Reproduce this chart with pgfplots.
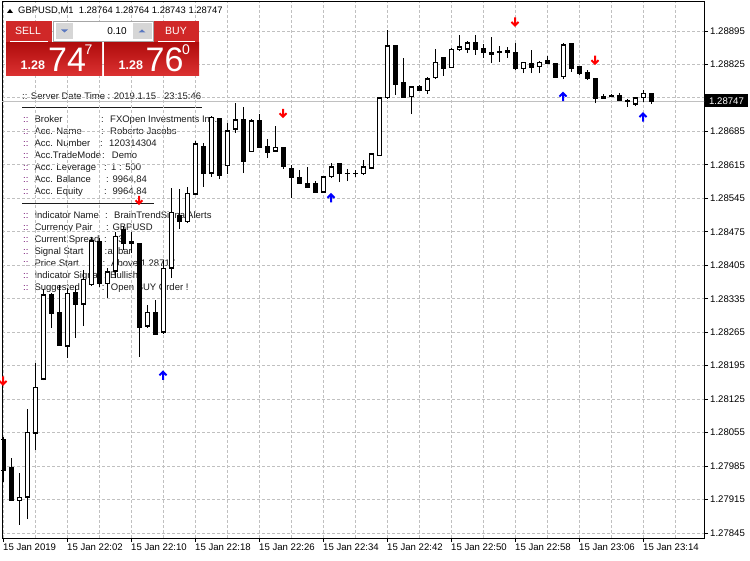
\documentclass[border=0pt]{standalone}
\usepackage{pgfplots}
\pgfplotsset{compat=1.18}
\usepackage{pgfplotstable}
\usepackage{fontspec}
\setmainfont{Liberation Sans}

\definecolor{gridc}{HTML}{C0C0C0}
\definecolor{btnred}{HTML}{D02828}
\definecolor{boxtop}{HTML}{DC3232}
\definecolor{boxbot}{HTML}{B00C0C}
\definecolor{spin}{HTML}{D6D6D6}
\definecolor{spinarr}{HTML}{5A78C0}
\definecolor{dots}{HTML}{6A006A}
\definecolor{lab}{HTML}{1C1C1C}

% MT4 style signal arrows
\pgfdeclareplotmark{uparr}{%
  \pgfsetlinewidth{2pt}\pgfsetbuttcap\pgfsetmiterjoin
  \pgfpathmoveto{\pgfqpoint{0pt}{-4.5pt}}\pgfpathlineto{\pgfqpoint{0pt}{3pt}}
  \pgfpathmoveto{\pgfqpoint{-3.5pt}{0pt}}\pgfpathlineto{\pgfqpoint{0pt}{3.5pt}}\pgfpathlineto{\pgfqpoint{3.5pt}{0pt}}
  \pgfusepathqstroke}
\pgfdeclareplotmark{dnarr}{%
  \pgfsetlinewidth{2pt}\pgfsetbuttcap\pgfsetmiterjoin
  \pgfpathmoveto{\pgfqpoint{0pt}{4.5pt}}\pgfpathlineto{\pgfqpoint{0pt}{-3pt}}
  \pgfpathmoveto{\pgfqpoint{-3.5pt}{0pt}}\pgfpathlineto{\pgfqpoint{0pt}{-3.5pt}}\pgfpathlineto{\pgfqpoint{3.5pt}{0pt}}
  \pgfusepathqstroke}

% GBPUSD M1, bar index 0 = 21:54
\pgfplotstableread{
i O H L C
0 1.28040 1.28046 1.27952 1.27975
1 1.27983 1.28002 1.27912 1.27912
2 1.27912 1.27971 1.27862 1.27920
3 1.27920 1.28104 1.27874 1.28056
4 1.28054 1.28201 1.28019 1.28150
5 1.28167 1.28355 1.28165 1.28343
6 1.28343 1.28347 1.28274 1.28305
7 1.28307 1.28364 1.28238 1.28238
8 1.28236 1.28358 1.28211 1.28347
9 1.28349 1.28362 1.28253 1.28324
10 1.28324 1.28395 1.28278 1.28376
11 1.28364 1.28464 1.28362 1.28456
12 1.28454 1.28462 1.28360 1.28366
13 1.28366 1.28399 1.28337 1.28391
14 1.28393 1.28475 1.28378 1.28466
15 1.28479 1.28487 1.28437 1.28450
16 1.28450 1.28475 1.28431 1.28454
17 1.28450 1.28450 1.28213 1.28274
18 1.28278 1.28322 1.28274 1.28307
19 1.28307 1.28332 1.28261 1.28261
20 1.28265 1.28416 1.28261 1.28399
21 1.28399 1.28567 1.28378 1.28516
22 1.28510 1.28565 1.28481 1.28496
23 1.28496 1.28569 1.28493 1.28556
24 1.28554 1.28665 1.28552 1.28659
25 1.28654 1.28661 1.28569 1.28598
26 1.28598 1.28717 1.28590 1.28715
27 1.28711 1.28711 1.28585 1.28592
28 1.28613 1.28703 1.28596 1.28686
29 1.28690 1.28744 1.28682 1.28709
30 1.28709 1.28736 1.28598 1.28623
31 1.28642 1.28711 1.28642 1.28707
32 1.28707 1.28721 1.28650 1.28652
33 1.28654 1.28669 1.28629 1.28640
34 1.28644 1.28696 1.28644 1.28652
35 1.28652 1.28652 1.28606 1.28611
36 1.28608 1.28615 1.28546 1.28588
37 1.28588 1.28604 1.28577 1.28577
38 1.28577 1.28611 1.28567 1.28567
39 1.28577 1.28581 1.28558 1.28558
40 1.28558 1.28592 1.28558 1.28590
41 1.28590 1.28619 1.28588 1.28611
42 1.28617 1.28617 1.28579 1.28598
43 1.28598 1.28606 1.28581 1.28597
44 1.28598 1.28604 1.28590 1.28597
45 1.28596 1.28625 1.28594 1.28611
46 1.28608 1.28640 1.28606 1.28638
47 1.28634 1.28757 1.28634 1.28755
48 1.28755 1.28897 1.28753 1.28864
49 1.28864 1.28864 1.28761 1.28784
50 1.28788 1.28839 1.28755 1.28755
51 1.28757 1.28780 1.28721 1.28778
52 1.28778 1.28782 1.28770 1.28770
53 1.28770 1.28799 1.28763 1.28795
54 1.28797 1.28857 1.28795 1.28830
55 1.28839 1.28841 1.28801 1.28816
56 1.28818 1.28859 1.28818 1.28857
57 1.28857 1.28887 1.28853 1.28862
58 1.28857 1.28874 1.28849 1.28870
59 1.28870 1.28887 1.28845 1.28857
60 1.28859 1.28868 1.28839 1.28851
61 1.28851 1.28882 1.28828 1.28845
62 1.28853 1.28864 1.28830 1.28851
63 1.28855 1.28862 1.28839 1.28851
64 1.28851 1.28870 1.28813 1.28816
65 1.28816 1.28830 1.28807 1.28830
66 1.28828 1.28855 1.28807 1.28818
67 1.28820 1.28832 1.28807 1.28830
68 1.28834 1.28843 1.28826 1.28828
69 1.28828 1.28828 1.28797 1.28797
70 1.28799 1.28870 1.28795 1.28866
71 1.28868 1.28868 1.28809 1.28816
72 1.28820 1.28820 1.28803 1.28807
73 1.28809 1.28813 1.28793 1.28795
74 1.28795 1.28795 1.28744 1.28753
75 1.28753 1.28763 1.28753 1.28757
76 1.28761 1.28763 1.28757 1.28757
77 1.28761 1.28765 1.28749 1.28749
78 1.28749 1.28753 1.28736 1.28747
79 1.28742 1.28757 1.28738 1.28755
80 1.28755 1.28772 1.28747 1.28765
81 1.28764 1.28764 1.28743 1.28747
}\candles

\pgfplotstableread{
i y
0 1.28163
17 1.28541
35 1.28723
64 1.28914
74 1.28834
}\sellsig

\pgfplotstableread{
i y
20 1.28175
41 1.28546
70 1.28758
80 1.28715
}\buysig

\newcommand\infoline[5]{%
  \node[anchor=base west, inner sep=0pt, text=dots] at (23,#1) {::};
  \node[anchor=base west, inner sep=0pt, text=lab] at (34.3,#1) {#2};
  \node[anchor=base west, inner sep=0pt, text=lab] at (#3,#1) {:};
  \node[anchor=base west, inner sep=0pt, text=lab] at (#4,#1) {#5};
}

\begin{document}
\begin{tikzpicture}
\path[use as bounding box] (0,0) rectangle (750pt,560pt);
\fill[white] (0,0) rectangle (750pt,560pt);

% account / indicator text, drawn under the chart
\begin{scope}[x=1pt, y=-1pt, shift={(0pt,560pt)}, font=\fontsize{9.5}{11}\selectfont]
  \node[anchor=base west, inner sep=0pt, text=lab] at (22,99.5) {:: Server Date Time : 2019.1.15};
  \node[anchor=base west, inner sep=0pt, text=lab] at (164,99.5) {23:15:46};
  \draw[lab, line width=0.9pt] (22,107.7) -- (202,107.7);
  \infoline{122.8}{Broker}{101}{110}{FXOpen Investments Inc.}
  \infoline{135}{Acc. Name}{101}{110}{Roberto Jacobs}
  \infoline{147}{Acc. Number}{100}{109}{120314304}
  \infoline{159}{Acc.TradeMode}{102}{111.7}{Demo}
  \infoline{171}{Acc. Leverage}{104}{111}{1 : 500}
  \infoline{183}{Acc. Balance}{106}{112.3}{9964,84}
  \infoline{195}{Acc. Equity}{104}{112.3}{9964,84}
  \draw[lab, line width=0.9pt] (22,203.3) -- (154,203.3);
  \infoline{219}{Indicator Name}{105}{114}{BrainTrendSignalAlerts}
  \infoline{231}{Currency Pair}{106}{112.3}{GBPUSD}
  \infoline{243}{Current Spread}{104}{113}{13}
  \infoline{255}{Signal Start}{104.3}{107.3}{at bar}
  \infoline{267}{Price Start}{102.3}{111}{Above 1.28717}
  \infoline{279}{Indicator Signal}{104}{110}{Bullish}
  \infoline{291}{Suggested}{101.7}{110.7}{Open BUY Order !}
\end{scope}

\begin{axis}[
  at={(2pt,22pt)}, anchor=south west,
  scale only axis, width=702pt, height=536pt,
  xmin=-0.125, xmax=87.625,
  ymin=1.278346, ymax=1.289557,
  axis line style={black, line width=1pt},
  xtick={0,8,...,80},
  xticklabels={15 Jan 2019,15 Jan 22:02,15 Jan 22:10,15 Jan 22:18,15 Jan 22:26,15 Jan 22:34,15 Jan 22:42,15 Jan 22:50,15 Jan 22:58,15 Jan 23:06,15 Jan 23:14},
  minor xtick={4,12,...,84},
  ytick={1.27845,1.27915,1.27985,1.28055,1.28125,1.28195,1.28265,1.28335,1.28405,1.28475,1.28545,1.28615,1.28685,1.28755,1.28825,1.28895},
  yticklabels={1.27845,1.27915,1.27985,1.28055,1.28125,1.28195,1.28265,1.28335,1.28405,1.28475,1.28545,1.28615,1.28685,1.28755,1.28825,1.28895},
  xmajorgrids, xminorgrids, ymajorgrids,
  grid style={gridc, line width=1pt, dash pattern=on 3pt off 2pt},
  minor grid style={gridc, line width=1pt, dash pattern=on 3pt off 2pt},
  xtick pos=left, ytick pos=right, yticklabel pos=right,
  tick align=outside, major tick length=4pt, minor tick length=0pt,
  tick style={black, line width=1pt},
  ticklabel style={font=\fontsize{9.6}{11}\selectfont},
  xticklabel style={anchor=north west, inner sep=0pt, yshift=-2pt},
  yticklabel style={anchor=west, inner sep=0pt, xshift=2pt},
  /pgf/number format/assume math mode=true,
]
% bid line
\addplot[gridc, line width=1pt] coordinates {(-1,1.28747) (90,1.28747)};
% wicks
\addplot[draw=none, mark=none, error bars/.cd, y dir=plus, y explicit, error mark=none,
  error bar style={draw=black, line width=1pt, solid}]
  table[x=i, y=L, y error expr=\thisrow{H}-\thisrow{L}] {\candles};
% bodies
\addplot[draw=none, mark=none, error bars/.cd, y dir=plus, y explicit, error mark=none,
  error bar style={draw=black, line width=5pt, solid}]
  table[x=i, y expr={min(\thisrow{O},\thisrow{C})}, y error expr={abs(\thisrow{C}-\thisrow{O})}] {\candles};
\addplot[only marks, mark=-, mark size=2.5pt, mark options={draw=black, line width=1pt, solid}]
  table[x=i, y=O] {\candles};
\addplot[only marks, mark=-, mark size=2.5pt, mark options={draw=black, line width=1pt, solid}]
  table[x=i, y=C] {\candles};
% hollow inside of rising candles
\addplot[draw=none, mark=none, unbounded coords=discard, error bars/.cd, y dir=plus, y explicit, error mark=none,
  error bar style={draw=white, line width=3pt, solid}]
  table[x=i, y expr={\thisrow{C}>\thisrow{O} ? \thisrow{O}+0.000021 : nan}, y error expr={\thisrow{C}-\thisrow{O}-0.000042}] {\candles};
% signals
\addplot[only marks, mark=dnarr, red] table[x=i, y=y] {\sellsig};
\addplot[only marks, mark=uparr, blue] table[x=i, y=y] {\buysig};
\end{axis}

% header, one-click panel and price label
\begin{scope}[x=1pt, y=-1pt, shift={(0pt,560pt)}]
  \fill[black] (7,13) -- (13,13) -- (10,9) -- cycle;
  \node[anchor=base west, inner sep=0pt, font=\fontsize{9.4}{11}\selectfont] at (18,14) {GBPUSD,M1\ \ 1.28764 1.28764 1.28743 1.28747};
  % sell button
  \fill[btnred] (6,21) rectangle (52,42);
  \node[white, font=\fontsize{10.5}{12}\selectfont] at (28,31) {SELL};
  \draw[white, line width=0.8pt] (10,41.6) -- (48,41.6);
  % lot field
  \fill[white] (53,21) rectangle (154,42);
  \draw[gray!70, line width=0.6pt] (53.5,21.5) rectangle (153.5,41.5);
  \fill[spin] (55.5,23.5) rectangle (72.5,39.5);
  \fill[spinarr] (61,29.5) -- (68,29.5) -- (64.5,32.5) -- cycle;
  \node[anchor=base east, inner sep=0pt, font=\fontsize{10}{12}\selectfont] at (127,35) {0.10};
  \fill[spin] (132.5,23.5) rectangle (151.5,39.5);
  \fill[spinarr] (138.5,32.5) -- (145.5,32.5) -- (142,29.5) -- cycle;
  % buy button
  \fill[btnred] (154,21) rectangle (199,42);
  \node[white, font=\fontsize{10.5}{12}\selectfont] at (176,31) {BUY};
  \draw[white, line width=0.8pt] (158,41.6) -- (195,41.6);
  % price boxes
  \shade[top color=boxbot, bottom color=boxtop] (6,42.5) rectangle (102,76);
  \shade[top color=boxbot, bottom color=boxtop] (104,42.5) rectangle (199,76);
  \node[anchor=base west, inner sep=0pt, white, font=\bfseries\fontsize{12.5}{14}\selectfont] at (20.5,70) {1.28};
  \node[anchor=base west, inner sep=0pt, white, font=\fontsize{34}{36}\selectfont] at (48,71.7) {74};
  \node[anchor=base west, inner sep=0pt, white, font=\fontsize{14}{16}\selectfont] at (84.5,55) {7};
  \node[anchor=base west, inner sep=0pt, white, font=\bfseries\fontsize{12.5}{14}\selectfont] at (118.5,70) {1.28};
  \node[anchor=base west, inner sep=0pt, white, font=\fontsize{34}{36}\selectfont] at (145.5,71.7) {76};
  \node[anchor=base west, inner sep=0pt, white, font=\fontsize{14}{16}\selectfont] at (182,55) {0};
  % current price label (covers the 1.28755 tick label, as in the terminal)
  \fill[black] (705,94) rectangle (748,107.5);
  \node[white, inner sep=0pt, font=\fontsize{9.6}{11}\selectfont] at (726.5,100.8) {1.28747};
\end{scope}
\end{tikzpicture}
\end{document}
